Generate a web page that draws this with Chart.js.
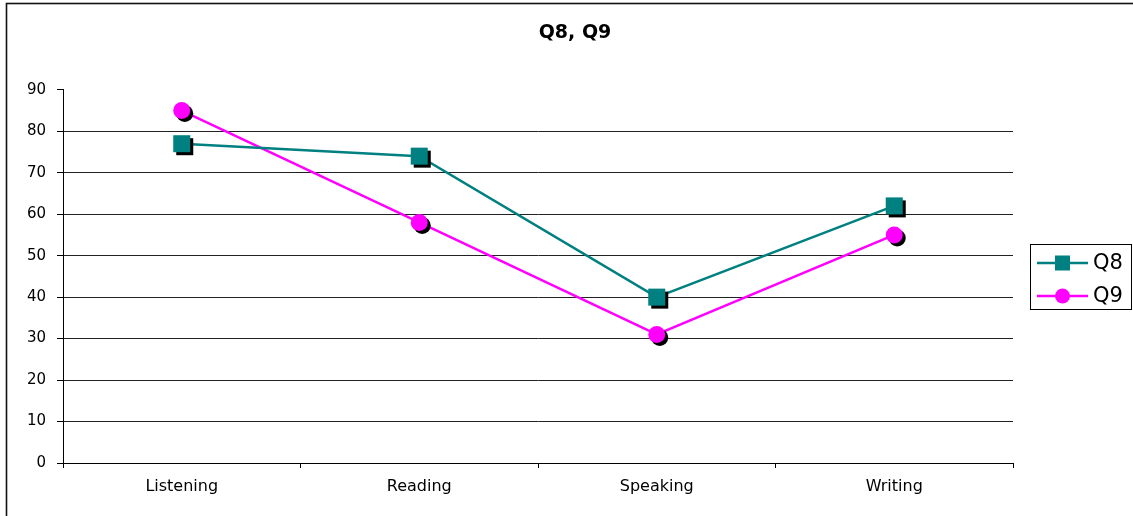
<!DOCTYPE html>
<html>
<head>
<meta charset="utf-8">
<script src="https://cdn.jsdelivr.net/npm/chart.js@4/dist/chart.umd.min.js"></script>
<style>
  html, body { margin: 0; padding: 0; background: #fff; }
  #wrap { width: 1133px; height: 516px; position: relative; }
</style>
</head>
<body>
<div id="wrap"><canvas id="chart" width="1133" height="516"></canvas></div>
<script>
// Skill areas on the horizontal axis
const categories = ['Listening', 'Reading', 'Speaking', 'Writing'];
// Scores per question
const q8Values = [77, 74, 40, 62];
const q9Values = [85, 58, 31, 55];
// Value axis
const yMin = 0;
const yMax = 90;
const yStep = 10;

const FONT = "'DejaVu Sans', sans-serif";
const TEAL = '#008080';
const MAGENTA = '#FF00FF';

function drawMarker(ctx, shape, x, y, color, size) {
  ctx.save();
  ctx.fillStyle = color;
  if (shape === 'rect') {
    ctx.fillRect(x - size, y - size, size * 2, size * 2);
  } else {
    ctx.beginPath();
    ctx.arc(x, y, size, 0, Math.PI * 2);
    ctx.fill();
  }
  ctx.restore();
}

// Outer frame around the whole chart
const framePlugin = {
  id: 'frame',
  beforeDraw(chart) {
    const ctx = chart.ctx;
    ctx.save();
    ctx.fillStyle = '#fff';
    ctx.fillRect(0, 0, chart.width, chart.height);
    ctx.strokeStyle = '#111';
    ctx.lineWidth = 1.6;
    ctx.strokeRect(6.5, 3.5, chart.width + 20, chart.height + 20);
    ctx.restore();
  }
};

// Markers with a dark drop shadow, drawn on top of the lines
const markerPlugin = {
  id: 'markers',
  afterDatasetsDraw(chart) {
    const ctx = chart.ctx;
    chart.data.datasets.forEach((ds, i) => {
      const meta = chart.getDatasetMeta(i);
      meta.data.forEach(pt => {
        drawMarker(ctx, ds.pointStyle, pt.x + 3, pt.y + 3, '#000', 8.5);
        drawMarker(ctx, ds.pointStyle, pt.x, pt.y, ds.borderColor, 8.5);
      });
    });
  }
};

// Boxed legend on the right side
const legendPlugin = {
  id: 'boxLegend',
  afterDraw(chart) {
    const ctx = chart.ctx;
    const left = 1030, top = 244, w = 101, h = 65;
    ctx.save();
    ctx.strokeStyle = '#000';
    ctx.lineWidth = 1;
    ctx.strokeRect(left + 0.5, top + 0.5, w, h);
    const rows = [263, 296];
    chart.data.datasets.forEach((ds, i) => {
      const y = rows[i];
      ctx.strokeStyle = ds.borderColor;
      ctx.lineWidth = 2.5;
      ctx.beginPath();
      ctx.moveTo(1037, y);
      ctx.lineTo(1088, y);
      ctx.stroke();
      drawMarker(ctx, ds.pointStyle, 1062.5, y, ds.borderColor, 7.5);
      ctx.fillStyle = '#000';
      ctx.font = '21px ' + FONT;
      ctx.textBaseline = 'middle';
      ctx.textAlign = 'left';
      ctx.fillText(ds.label, 1093, y + 1);
    });
    ctx.restore();
  }
};

new Chart(document.getElementById('chart'), {
  type: 'line',
  data: {
    labels: categories,
    datasets: [
      {
        label: 'Q8',
        data: q8Values,
        borderColor: TEAL,
        backgroundColor: TEAL,
        borderWidth: 2.5,
        pointStyle: 'rect',
        pointRadius: 0,
        tension: 0
      },
      {
        label: 'Q9',
        data: q9Values,
        borderColor: MAGENTA,
        backgroundColor: MAGENTA,
        borderWidth: 2.5,
        pointStyle: 'circle',
        pointRadius: 0,
        tension: 0
      }
    ]
  },
  options: {
    responsive: false,
    animation: false,
    events: [],
    layout: { padding: { left: 17, right: 0, top: 0, bottom: 0 } },
    plugins: {
      legend: { display: false },
      tooltip: { enabled: false },
      title: {
        display: true,
        text: 'Q8, Q9',
        color: '#000',
        font: { family: FONT, size: 19, weight: 'bold' },
        padding: { top: 22, bottom: 45 }
      }
    },
    scales: {
      x: {
        offset: true,
        grid: {
          display: true,
          offset: true,
          drawOnChartArea: false,
          drawTicks: true,
          tickLength: 5,
          color: '#000'
        },
        border: { display: true, color: '#000', width: 1 },
        ticks: {
          color: '#000',
          font: { family: FONT, size: 16 },
          padding: 9,
          maxRotation: 0
        },
        afterFit(scale) { scale.height = 53; }
      },
      y: {
        min: yMin,
        max: yMax,
        ticks: {
          stepSize: yStep,
          color: '#000',
          font: { family: FONT, size: 15 },
          padding: 11
        },
        grid: {
          color: c => (c.tick && c.tick.value === yMax) ? 'rgba(0,0,0,0)' : '#222',
          tickColor: '#000',
          tickLength: 6,
          lineWidth: 1
        },
        border: { display: true, color: '#000', width: 1 },
        afterFit(scale) { scale.width = 46; }
      },
      legendSpace: {
        type: 'linear',
        position: 'right',
        display: true,
        grid: { display: false },
        border: { display: false },
        ticks: { display: false },
        afterFit(scale) { scale.width = 120; }
      }
    }
  },
  plugins: [framePlugin, markerPlugin, legendPlugin]
});
</script>
</body>
</html>
